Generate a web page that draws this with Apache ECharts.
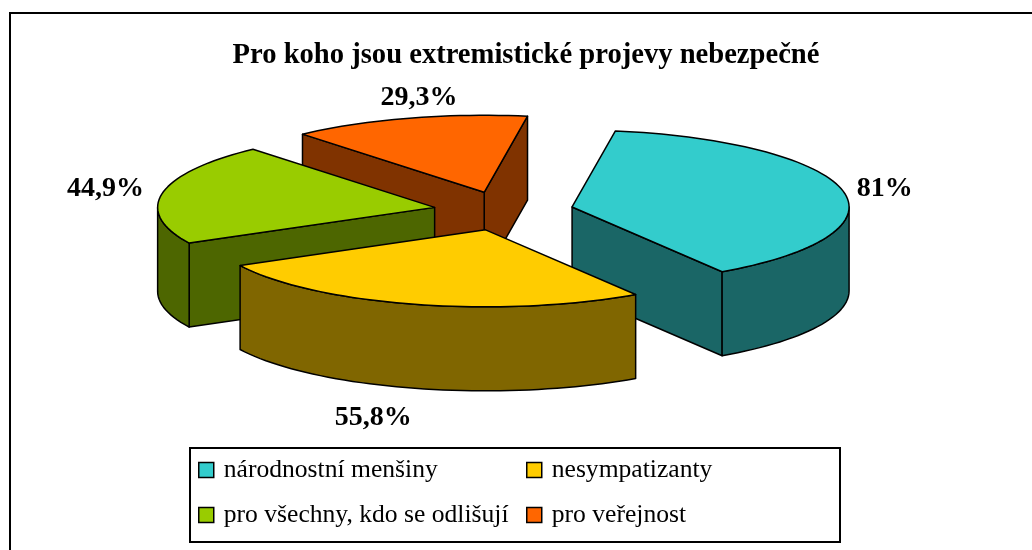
<!DOCTYPE html>
<html>
<head>
<meta charset="utf-8">
<script src="https://cdn.jsdelivr.net/npm/echarts@6/dist/echarts.min.js"></script>
<style>
html, body { margin: 0; padding: 0; background: #fff; }
#chart { width: 1032px; height: 550px; }
</style>
</head>
<body>
<div id="chart"></div>
<script>
var categories = ['národnostní menšiny', 'nesympatizanty', 'pro všechny, kdo se odlišují', 'pro veřejnost'];
var values = [81, 55.8, 44.9, 29.3];
var valueLabels = ['81%', '55,8%', '44,9%', '29,3%'];
var topColors = ['#33CCCC', '#FFCC00', '#99CC00', '#FF6600'];
var sideColors = ['#1A6666', '#806600', '#4D6600', '#803300'];

// geometry of the tilted, exploded pie (px)
var CX = 503.5, CY = 211, RX = 277, RY = 77, DEPTH = 84, EXPLODE = 0.253, START = 9;
// value labels were moved by hand in the original chart
var labelShift = [[-18, 1], [-26, 13], [3, -1], [28, -4]];
var FONT = '"Liberation Serif", "Times New Roman", serif';
var RAD = Math.PI / 180;

var total = values.reduce(function (a, b) { return a + b; }, 0);
var starts = [], ends = [];
var acc = START;
values.forEach(function (v) {
    starts.push(acc);
    acc += v / total * 360;
    ends.push(acc);
});

// point on the rim, angle clockwise from 12 o'clock
function rim(px, py, a, dy) {
    return [px + RX * Math.sin(a * RAD), py - RY * Math.cos(a * RAD) + dy];
}
function arc(px, py, from, to, dy) {
    var n = Math.max(2, Math.ceil(Math.abs(to - from) / 2) + 1);
    var pts = [];
    for (var k = 0; k < n; k++) {
        pts.push(rim(px, py, from + (to - from) * k / (n - 1), dy));
    }
    return pts;
}
function meanY(pts) {
    var s = 0;
    pts.forEach(function (p) { s += p[1]; });
    return s / pts.length;
}

function renderSlice(params, api) {
    var i = params.seriesIndex;
    var s = starts[i], e = ends[i], m = (s + e) / 2;
    var px = CX + EXPLODE * RX * Math.sin(m * RAD);
    var py = CY - EXPLODE * RY * Math.cos(m * RAD);
    var kids = [];
    function face(points, z2, fill) {
        kids.push({
            type: 'polygon',
            shape: { points: points },
            z2: z2,
            style: { fill: fill, stroke: '#000', lineWidth: 1.5, lineJoin: 'round' }
        });
    }
    // curved wall, only the part that faces us
    var fs = Math.max(s, 90), fe = Math.min(e, 270);
    if (fe > fs) {
        var wall = arc(px, py, fs, fe, 0).concat(arc(px, py, fe, fs, DEPTH));
        face(wall, meanY(wall), sideColors[i]);
    }
    // cut walls
    [[s, Math.sin(s * RAD) < 0], [e, Math.sin(e * RAD) > 0]].forEach(function (c) {
        if (!c[1]) return;
        var a = rim(px, py, c[0], 0), b = rim(px, py, c[0], DEPTH);
        var pts = [[px, py], a, b, [px, py + DEPTH]];
        face(pts, meanY(pts), sideColors[i]);
    });
    // top
    face([[px, py]].concat(arc(px, py, s, e, 0)), 1000, topColors[i]);

    var lp = rim(px, py, m, 0);
    var lx = px + (lp[0] - px) * 1.22 + labelShift[i][0];
    var ly = py + (lp[1] - py) * 1.22 + labelShift[i][1] + (Math.cos(m * RAD) < 0 ? DEPTH : 0);
    kids.push({
        type: 'text',
        x: lx, y: ly, z2: 1001,
        style: {
            text: valueLabels[i],
            fill: '#000',
            font: 'bold 28px ' + FONT,
            align: 'center',
            verticalAlign: 'middle'
        }
    });
    return { type: 'group', children: kids };
}

var legendBase = {
    orient: 'vertical',
    top: 457,
    padding: 0,
    itemGap: 19,
    itemWidth: 15,
    itemHeight: 15,
    icon: 'rect',
    selectedMode: false,
    itemStyle: { borderColor: '#000', borderWidth: 1.5 },
    textStyle: { fontFamily: FONT, fontSize: 25.6, color: '#000', lineHeight: 26, padding: [0, 0, 0, 5] }
};

var chart = echarts.init(document.getElementById('chart'));
chart.setOption({
    animation: false,
    backgroundColor: '#fff',
    title: {
        text: 'Pro koho jsou extremistické projevy nebezpečné',
        left: 521,
        top: 36,
        textAlign: 'center',
        textStyle: { fontFamily: FONT, fontSize: 28.6, fontWeight: 'bold', color: '#000' }
    },
    legend: [
        Object.assign({}, legendBase, { left: 198, data: [categories[0], categories[2]] }),
        Object.assign({}, legendBase, { left: 526, data: [categories[1], categories[3]] })
    ],
    graphic: [
        { type: 'rect', shape: { x: 10, y: 13, width: 1100, height: 600 }, style: { fill: 'none', stroke: '#000', lineWidth: 2 } },
        { type: 'rect', shape: { x: 190, y: 448, width: 650, height: 94 }, style: { fill: 'none', stroke: '#000', lineWidth: 2 } }
    ],
    series: categories.map(function (name, i) {
        return {
            type: 'custom',
            name: name,
            coordinateSystem: 'none',
            silent: true,
            itemStyle: { color: topColors[i] },
            renderItem: renderSlice,
            data: [values[i]]
        };
    })
});
</script>
</body>
</html>
